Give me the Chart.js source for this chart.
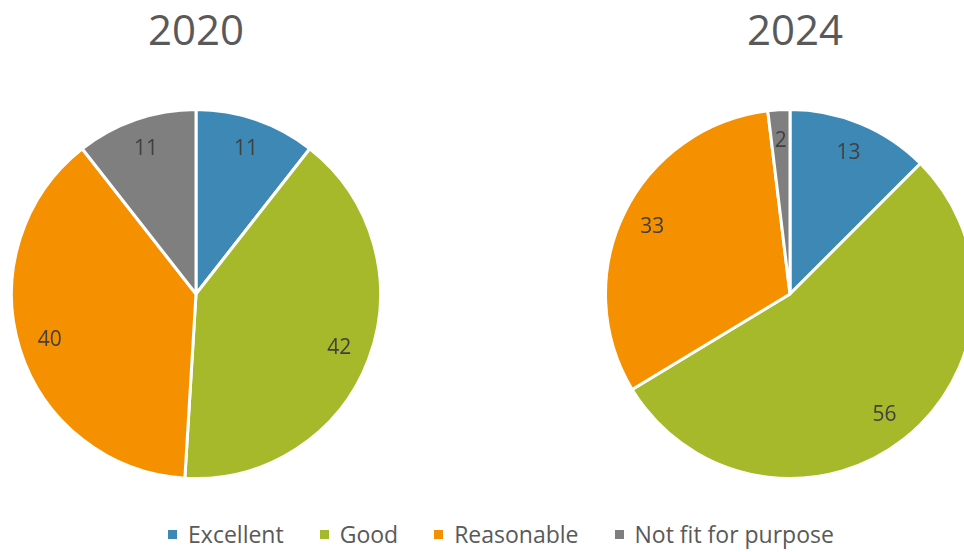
<!DOCTYPE html>
<html>
<head>
<meta charset="utf-8">
<script src="https://cdn.jsdelivr.net/npm/chart.js@4/dist/chart.umd.min.js"></script>
<style>
  html, body { margin: 0; padding: 0; background: #fff; overflow: hidden; }
  body { width: 964px; height: 552px; position: relative; font-family: 'Open Sans', sans-serif; }
  .title { position: absolute; top: 0; width: 200px; text-align: center; font-size: 42px; color: #595959; line-height: 58px; }
  .pie { position: absolute; top: 108px; width: 372px; height: 372px; }
  #legend { position: absolute; left: 38px; right: 0; top: 518px; display: flex; justify-content: center; gap: 36px;
            font-size: 23px; color: #595959; line-height: 32px; }
  #legend span.item { display: flex; align-items: center; }
  #legend i { display: inline-block; width: 9px; height: 9px; margin-right: 11px; }
</style>
</head>
<body>
<div class="title" style="left:96px">2020</div>
<div class="title" style="left:695px">2024</div>
<div class="pie" style="left:10px"><canvas id="c2020"></canvas></div>
<div class="pie" style="left:604px"><canvas id="c2024"></canvas></div>
<div id="legend"></div>
<script>
// ratings, same order in both years
const categories = ['Excellent', 'Good', 'Reasonable', 'Not fit for purpose'];
const values2020 = [11, 42, 40, 11];
const values2024 = [13, 56, 33, 2];
const colors = ['#3E88B6', '#A6B92A', '#F59100', '#7F7F7F'];

// value labels sit inside each slice, ~83% out from the centre
const sliceLabels = {
  id: 'sliceLabels',
  afterDatasetsDraw(chart) {
    const { ctx } = chart;
    const meta = chart.getDatasetMeta(0);
    ctx.save();
    ctx.font = '21px "Open Sans"';
    ctx.fillStyle = '#404040';
    ctx.textAlign = 'center';
    ctx.textBaseline = 'middle';
    meta.data.forEach((arc, i) => {
      const p = arc.getProps(['x', 'y', 'startAngle', 'endAngle', 'outerRadius'], true);
      const mid = (p.startAngle + p.endAngle) / 2;
      const r = p.outerRadius * 0.83;
      ctx.fillText(String(chart.data.datasets[0].data[i]), p.x + Math.cos(mid) * r, p.y + Math.sin(mid) * r);
    });
    ctx.restore();
  },
};

function makePie(id, values) {
  return new Chart(document.getElementById(id), {
    type: 'pie',
    data: {
      labels: categories,
      datasets: [{ data: values, backgroundColor: colors, borderColor: '#fff', borderWidth: 3 }],
    },
    options: {
      responsive: true,
      maintainAspectRatio: false,
      animation: false,
      layout: { padding: 0 },
      plugins: { legend: { display: false }, tooltip: { enabled: false } },
    },
    plugins: [sliceLabels],
  });
}

makePie('c2020', values2020);
makePie('c2024', values2024);

// shared legend under both pies
document.getElementById('legend').innerHTML = categories
  .map((c, i) => `<span class="item"><i style="background:${colors[i]}"></i>${c}</span>`)
  .join('');
</script>
</body>
</html>
